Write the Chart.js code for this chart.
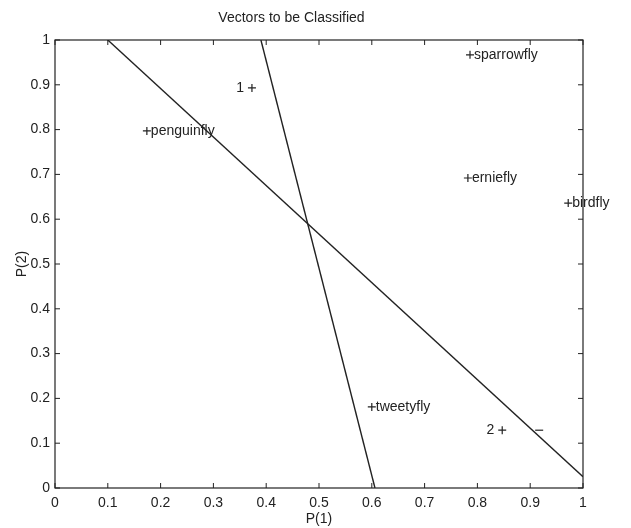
<!DOCTYPE html>
<html>
<head>
<meta charset="utf-8">
<script src="https://cdn.jsdelivr.net/npm/chart.js@4/dist/chart.umd.min.js"></script>
<style>
  html, body { margin: 0; padding: 0; background: #fff; }
  #wrap { width: 631px; height: 528px; }
</style>
</head>
<body>
<div id="wrap"><canvas id="vecChart" width="631" height="528"></canvas></div>
<script>
// vectors to classify (P(1), P(2)) and their labels
const pointNames = ['penguinfly', 'sparrowfly', 'erniefly', 'birdfly', 'tweetyfly', '1', '2'];
const p1Values = [0.174, 0.786, 0.782, 0.972, 0.600, 0.373, 0.847];
const p2Values = [0.797, 0.967, 0.692, 0.636, 0.181, 0.893, 0.129];

// decision boundaries
const line1X = [0.1, 1.0];
const line1Y = [1.0, 0.025];
const line2X = [0.39, 0.606];
const line2Y = [1.0, 0.0];

// the small "-" mark next to class 2
const dashX = [0.917];
const dashY = [0.129];

const xTicks = [0, 0.1, 0.2, 0.3, 0.4, 0.5, 0.6, 0.7, 0.8, 0.9, 1];
const yTicks = [0, 0.1, 0.2, 0.3, 0.4, 0.5, 0.6, 0.7, 0.8, 0.9, 1];

const ink = '#222';
const fontFam = '"Liberation Sans", Arial, Helvetica, sans-serif';

const toXY = (xs, ys) => xs.map((x, i) => ({ x: x, y: ys[i] }));

// box and inward tick marks like the original
const boxTicks = {
    id: 'boxTicks',
    afterDatasetsDraw(chart) {
        const { ctx, chartArea: a, scales } = chart;
        ctx.save();
        ctx.strokeStyle = ink;
        ctx.lineWidth = 1.2;
        ctx.strokeRect(a.left, a.top, a.right - a.left, a.bottom - a.top);
        ctx.lineWidth = 1;
        ctx.beginPath();
        xTicks.forEach(v => {
            const px = scales.x.getPixelForValue(v);
            ctx.moveTo(px, a.bottom); ctx.lineTo(px, a.bottom - 5);
            ctx.moveTo(px, a.top); ctx.lineTo(px, a.top + 5);
        });
        yTicks.forEach(v => {
            const py = scales.y.getPixelForValue(v);
            ctx.moveTo(a.left, py); ctx.lineTo(a.left + 5, py);
            ctx.moveTo(a.right, py); ctx.lineTo(a.right - 5, py);
        });
        ctx.stroke();

        // text labels next to the vectors
        ctx.fillStyle = ink;
        ctx.font = '14px ' + fontFam;
        ctx.textBaseline = 'middle';
        pointNames.forEach((name, i) => {
            const px = scales.x.getPixelForValue(p1Values[i]);
            const py = scales.y.getPixelForValue(p2Values[i]);
            if (name.length === 1) {
                ctx.textAlign = 'right';
                ctx.fillText(name, px - 8, py);
            } else {
                ctx.textAlign = 'left';
                ctx.fillText(name, px + 4, py);
            }
        });
        ctx.restore();
    }
};

new Chart(document.getElementById('vecChart').getContext('2d'), {
    type: 'scatter',
    data: {
        datasets: [
            {
                label: 'vectors',
                data: toXY(p1Values, p2Values),
                pointStyle: 'cross',
                pointRadius: 4,
                pointBorderWidth: 1.2,
                borderColor: ink,
                backgroundColor: ink,
                clip: false
            },
            {
                label: 'dash',
                data: toXY(dashX, dashY),
                pointStyle: 'line',
                pointRadius: 4,
                pointBorderWidth: 1.2,
                borderColor: ink
            },
            {
                label: 'boundary 1',
                data: toXY(line1X, line1Y),
                showLine: true,
                borderColor: ink,
                borderWidth: 1.4,
                pointRadius: 0
            },
            {
                label: 'boundary 2',
                data: toXY(line2X, line2Y),
                showLine: true,
                borderColor: ink,
                borderWidth: 1.4,
                pointRadius: 0
            }
        ]
    },
    options: {
        responsive: false,
        animation: false,
        layout: { padding: { left: 0, right: 48, top: 0, bottom: 0 } },
        plugins: {
            legend: { display: false },
            tooltip: { enabled: false },
            title: {
                display: true,
                text: 'Vectors to be Classified',
                color: ink,
                font: { family: fontFam, size: 14, weight: 'normal' },
                padding: { top: 10, bottom: 13.2 }
            }
        },
        scales: {
            x: {
                type: 'linear',
                min: 0, max: 1,
                afterBuildTicks: s => { s.ticks = xTicks.map(v => ({ value: v })); },
                afterFit: s => { s.height = 40; },
                grid: { display: false, drawTicks: false },
                border: { display: false },
                ticks: {
                    color: ink,
                    padding: 7,
                    maxRotation: 0,
                    font: { family: fontFam, size: 14 },
                    callback: v => String(v)
                },
                title: {
                    display: true,
                    text: 'P(1)',
                    color: ink,
                    font: { family: fontFam, size: 14 },
                    padding: { top: -6, bottom: 0 }
                }
            },
            y: {
                type: 'linear',
                min: 0, max: 1,
                afterBuildTicks: s => { s.ticks = yTicks.map(v => ({ value: v })); },
                afterFit: s => { s.width = 55; },
                grid: { display: false, drawTicks: false },
                border: { display: false },
                ticks: {
                    color: ink,
                    padding: 5,
                    font: { family: fontFam, size: 14 },
                    callback: v => String(v)
                },
                title: {
                    display: true,
                    text: 'P(2)',
                    color: ink,
                    font: { family: fontFam, size: 14 },
                    padding: { top: 14, bottom: 0 }
                }
            }
        }
    },
    plugins: [boxTicks]
});
</script>
</body>
</html>
